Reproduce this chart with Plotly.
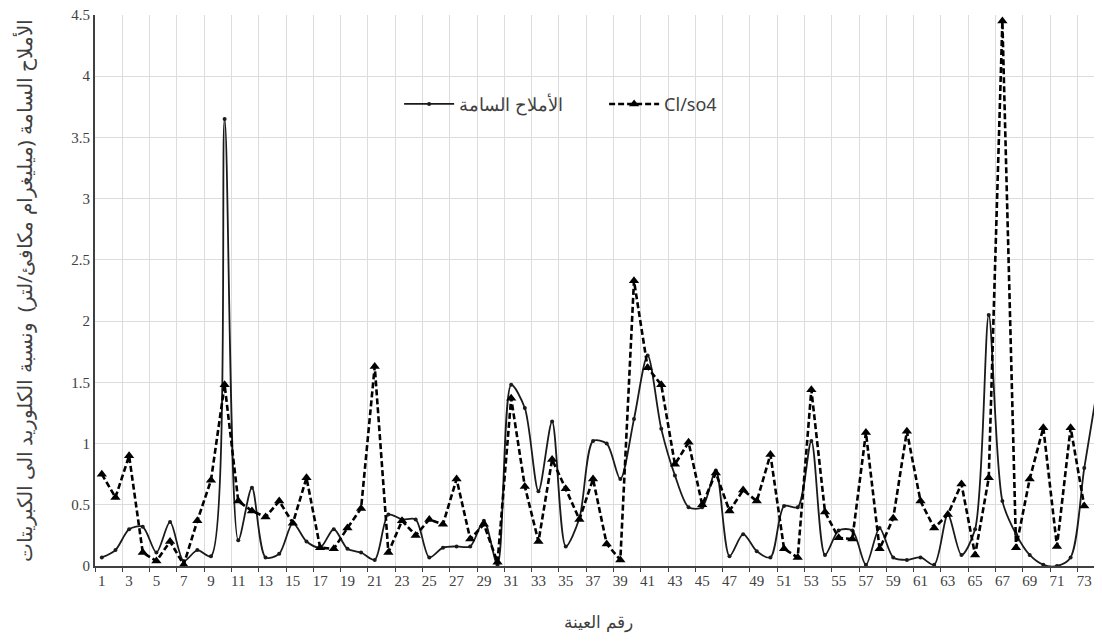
import plotly.graph_objects as go

categories = list(range(1, 75))
tick_labels = [str(i) for i in range(1, 75, 2)]
y_ticks = [0, 0.5, 1, 1.5, 2, 2.5, 3, 3.5, 4, 4.5]
y_tick_text = ["0", "0.5", "1", "1.5", "2", "2.5", "3", "3.5", "4", "4.5"]

salts = [0.07, 0.13, 0.30, 0.32, 0.11, 0.36, 0.04, 0.13, 0.08, 3.65,
         0.21, 0.64, 0.07, 0.10, 0.35, 0.20, 0.15, 0.30, 0.14, 0.11,
         0.05, 0.42, 0.38, 0.38, 0.07, 0.15, 0.16, 0.16, 0.37, 0.01,
         1.48, 1.29, 0.61, 1.18, 0.16, 0.39, 1.02, 1.00, 0.71, 1.20,
         1.72, 1.12, 0.74, 0.48, 0.48, 0.78, 0.08, 0.26, 0.12, 0.07,
         0.49, 0.48, 1.02, 0.09, 0.29, 0.29, 0.01, 0.31, 0.07, 0.05,
         0.07, 0.01, 0.42, 0.09, 0.30, 2.05, 0.53, 0.26, 0.09, 0.01,
         0.00, 0.07, 0.80, 1.48]

cl_so4 = [0.75, 0.56, 0.90, 0.11, 0.04, 0.20, 0.01, 0.37, 0.70, 1.48,
          0.53, 0.45, 0.40, 0.53, 0.35, 0.72, 0.15, 0.14, 0.31, 0.47,
          1.63, 0.11, 0.37, 0.25, 0.38, 0.34, 0.71, 0.22, 0.34, 0.03,
          1.37, 0.65, 0.20, 0.87, 0.63, 0.38, 0.71, 0.18, 0.05, 2.33,
          1.62, 1.48, 0.83, 1.01, 0.50, 0.76, 0.45, 0.62, 0.53, 0.91,
          0.14, 0.07, 1.44, 0.44, 0.23, 0.22, 1.09, 0.14, 0.39, 1.10,
          0.53, 0.31, 0.42, 0.67, 0.09, 0.72, 4.45, 0.15, 0.71, 1.13,
          0.16, 1.13, 0.49]

name_salts = "الأملاح السامة"
name_ratio = "Cl/so4"
y_title = "الأملاح السامة (ميليغرام مكافئ/لتر)  ونسبة الكلوريد الى الكبريتات"
x_title = "رقم العينة"

x_range = [0.5, 74.3]

fig = go.Figure()
fig.add_trace(go.Scatter(
    x=categories, y=salts, name=name_salts, mode="lines+markers",
    line=dict(color="#1a1a1a", width=1.8, shape="spline", smoothing=0.8),
    marker=dict(symbol="circle", size=4, color="#1a1a1a"),
))
fig.add_trace(go.Scatter(
    x=categories[:len(cl_so4)], y=cl_so4, name=name_ratio, mode="lines+markers",
    line=dict(color="#000000", width=2.6, dash="6px,3px"),
    marker=dict(symbol="triangle-up", size=9, color="#000000"),
))
# invisible helper trace to activate the grid axis
fig.add_trace(go.Scatter(x=[x_range[0]], y=[0], xaxis="x2", mode="markers",
                         marker=dict(opacity=0), showlegend=False, hoverinfo="skip"))

fig.update_layout(
    width=1094, height=636,
    margin=dict(l=87, r=0, t=7, b=78),
    paper_bgcolor="white", plot_bgcolor="white",
    font=dict(family="Liberation Serif", size=14, color="#404040"),
    legend=dict(orientation="h", x=0.302, y=0.838, xanchor="left", yanchor="middle",
                bgcolor="rgba(0,0,0,0)", font=dict(family="Noto Sans", size=18, color="#404040"),
                itemwidth=50, entrywidth=140, traceorder="normal"),
    showlegend=True,
    xaxis=dict(
        range=x_range,
        tickmode="array", tickvals=list(range(1, 75, 2)), ticktext=tick_labels,
        showgrid=False, ticks="",
        tickfont=dict(family="Liberation Serif", size=15, color="#404040"),
        showline=True, linecolor="#404040", linewidth=2,
        title=dict(text=x_title, font=dict(family="Noto Sans", size=17, color="#404040"), standoff=28),
        zeroline=False, automargin=False, ticklabeloverflow="allow",
    ),
    xaxis2=dict(
        overlaying="x", range=x_range, tick0=0.5, dtick=2, tickmode="linear",
        showticklabels=False, showgrid=True, gridcolor="#dcdcdc", gridwidth=1,
        ticks="outside", ticklen=5, tickcolor="#404040", side="bottom",
        zeroline=False, showline=False, automargin=False, layer="below traces",
    ),
    yaxis=dict(
        range=[0, 4.5],
        tickmode="array", tickvals=y_ticks, ticktext=y_tick_text,
        showgrid=True, gridcolor="#dcdcdc", gridwidth=1,
        tickfont=dict(family="Liberation Serif", size=15, color="#404040"),
        showline=True, linecolor="#404040", linewidth=2,
        ticks="", zeroline=False, automargin=False, ticklabeloverflow="allow",
        title=dict(text=y_title, font=dict(family="Noto Sans", size=20, color="#404040"), standoff=33),
    ),
)

fig.write_html("out.html")
